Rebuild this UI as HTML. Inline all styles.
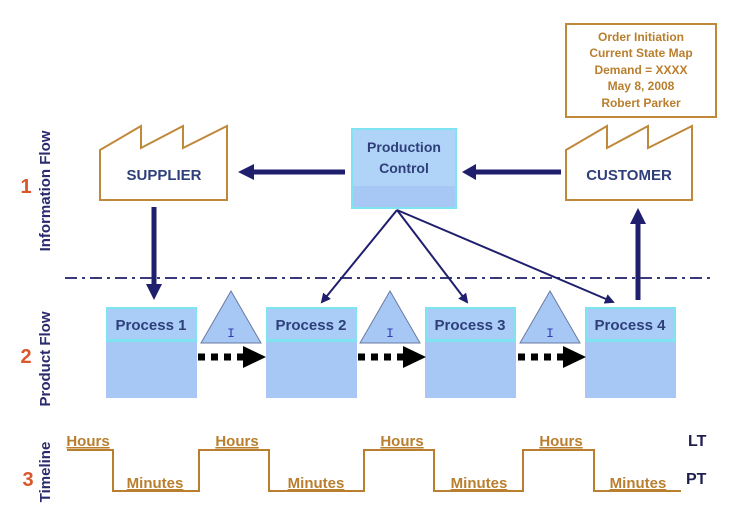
<!DOCTYPE html>
<html><head><meta charset="utf-8"><style>
html,body{margin:0;padding:0;background:#fff;}
svg{display:block;font-family:"Liberation Sans",Arial,sans-serif;font-weight:bold;}
</style></head><body>
<svg width="746" height="532" viewBox="0 0 746 532" xmlns="http://www.w3.org/2000/svg">
<defs>
<marker id="ah" markerWidth="10" markerHeight="10" refX="8" refY="5" orient="auto" markerUnits="userSpaceOnUse"><path d="M0,0 L10,5 L0,10 z" fill="#1f1f6e"/></marker>
</defs>
<!-- side labels -->
<text transform="translate(50,191) rotate(-90)" text-anchor="middle" font-size="15" fill="#2a2a6e">Information Flow</text>
<text transform="translate(50,359) rotate(-90)" text-anchor="middle" font-size="15" fill="#2a2a6e">Product Flow</text>
<text transform="translate(50,472) rotate(-90)" text-anchor="middle" font-size="15" fill="#2a2a6e">Timeline</text>
<text x="26" y="193" text-anchor="middle" font-size="20" fill="#d9572a">1</text>
<text x="26" y="363" text-anchor="middle" font-size="20" fill="#d9572a">2</text>
<text x="28" y="486" text-anchor="middle" font-size="20" fill="#d9572a">3</text>

<!-- order box -->
<rect x="566" y="24" width="150" height="93" fill="#fff" stroke="#c0893a" stroke-width="2"/>
<g font-size="12" fill="#b97f2e" text-anchor="middle">
<text x="641" y="41">Order Initiation</text>
<text x="641" y="57">Current State Map</text>
<text x="641" y="74">Demand = XXXX</text>
<text x="641" y="90">May 8, 2008</text>
<text x="641" y="107">Robert Parker</text>
</g>

<!-- factories -->
<path d="M100,150 L141,126 L141,148 L183,126 L183,148 L227,126 L227,200 L100,200 Z" fill="#fff" stroke="#c0893a" stroke-width="2"/>
<text x="164" y="180" text-anchor="middle" font-size="15" fill="#2f3f7a">SUPPLIER</text>
<path d="M566,150 L607,126 L607,148 L648,126 L648,148 L692,126 L692,200 L566,200 Z" fill="#fff" stroke="#c0893a" stroke-width="2"/>
<text x="629" y="180" text-anchor="middle" font-size="15" fill="#2f3f7a">CUSTOMER</text>

<!-- production control -->
<rect x="352" y="129" width="104" height="79" fill="#a7c8f5" stroke="#7fe3f0" stroke-width="2"/>
<rect x="353" y="130" width="102" height="56" fill="#b0d4f8"/>
<text x="404" y="152" text-anchor="middle" font-size="14" fill="#2f3f7a">Production</text>
<text x="404" y="173" text-anchor="middle" font-size="14" fill="#2f3f7a">Control</text>

<!-- thick arrows -->
<g stroke="#1f1f6e" stroke-width="5" fill="#1f1f6e">
<line x1="561" y1="172" x2="474" y2="172"/>
<path d="M462,172 L476,164 L476,180 Z" stroke="none"/>
<line x1="345" y1="172" x2="252" y2="172"/>
<path d="M238,172 L254,164 L254,180 Z" stroke="none"/>
<line x1="154" y1="207" x2="154" y2="285"/>
<path d="M154,300 L146,284 L162,284 Z" stroke="none"/>
<line x1="638" y1="300" x2="638" y2="222"/>
<path d="M638,208 L630,224 L646,224 Z" stroke="none"/>
</g>

<!-- dash-dot -->
<line x1="65" y1="278" x2="712" y2="278" stroke="#3a3a7a" stroke-width="2" stroke-dasharray="12,5,3,5"/>

<!-- PC thin lines -->
<g stroke="#1f1f6e" stroke-width="2" fill="none" marker-end="url(#ah)">
<line x1="397" y1="210" x2="322" y2="302"/>
<line x1="397" y1="210" x2="467" y2="302"/>
<line x1="397" y1="210" x2="613" y2="302"/>
</g>

<!-- processes -->
<g font-size="15" fill="#2f3f7a" text-anchor="middle">
<g transform="translate(106,0)"><rect x="0" y="307" width="91" height="91" fill="#a7c8f5"/><rect x="0" y="307" width="91" height="35" fill="#7fe3f0"/><rect x="2" y="309" width="87" height="30" fill="#a9cdf6"/><text x="45" y="330">Process 1</text></g>
<g transform="translate(266,0)"><rect x="0" y="307" width="91" height="91" fill="#a7c8f5"/><rect x="0" y="307" width="91" height="35" fill="#7fe3f0"/><rect x="2" y="309" width="87" height="30" fill="#a9cdf6"/><text x="45" y="330">Process 2</text></g>
<g transform="translate(425,0)"><rect x="0" y="307" width="91" height="91" fill="#a7c8f5"/><rect x="0" y="307" width="91" height="35" fill="#7fe3f0"/><rect x="2" y="309" width="87" height="30" fill="#a9cdf6"/><text x="45" y="330">Process 3</text></g>
<g transform="translate(585,0)"><rect x="0" y="307" width="91" height="91" fill="#a7c8f5"/><rect x="0" y="307" width="91" height="35" fill="#7fe3f0"/><rect x="2" y="309" width="87" height="30" fill="#a9cdf6"/><text x="45" y="330">Process 4</text></g>
</g>

<!-- inventory triangles + push arrows -->
<g>
<path d="M231,291 L261,343 L201,343 Z" fill="#a7c8f5" stroke="#6a7aa0" stroke-width="1"/>
<text x="231" y="337" text-anchor="middle" font-size="13" font-weight="normal" font-family="Liberation Mono,monospace" fill="#3a3ab0">I</text>
<path d="M390,291 L420,343 L360,343 Z" fill="#a7c8f5" stroke="#6a7aa0" stroke-width="1"/>
<text x="390" y="337" text-anchor="middle" font-size="13" font-weight="normal" font-family="Liberation Mono,monospace" fill="#3a3ab0">I</text>
<path d="M550,291 L580,343 L520,343 Z" fill="#a7c8f5" stroke="#6a7aa0" stroke-width="1"/>
<text x="550" y="337" text-anchor="middle" font-size="13" font-weight="normal" font-family="Liberation Mono,monospace" fill="#3a3ab0">I</text>
</g>
<g stroke="#000" stroke-width="7" stroke-dasharray="7,6">
<line x1="198" y1="357" x2="245" y2="357"/>
<line x1="358" y1="357" x2="405" y2="357"/>
<line x1="518" y1="357" x2="565" y2="357"/>
</g>
<g fill="#000">
<path d="M243,346 L266,357 L243,368 Z"/>
<path d="M403,346 L426,357 L403,368 Z"/>
<path d="M563,346 L586,357 L563,368 Z"/>
</g>

<!-- timeline -->
<path d="M67,450 L113,450 L113,491 L199,491 L199,450 L269,450 L269,491 L364,491 L364,450 L434,450 L434,491 L523,491 L523,450 L594,450 L594,491 L681,491" fill="none" stroke="#b97f2e" stroke-width="2"/>
<g font-size="15" fill="#b97f2e" text-anchor="middle" text-decoration="underline">
<text x="88" y="446">Hours</text>
<text x="237" y="446">Hours</text>
<text x="402" y="446">Hours</text>
<text x="561" y="446">Hours</text>
<text x="155" y="488">Minutes</text>
<text x="316" y="488">Minutes</text>
<text x="479" y="488">Minutes</text>
<text x="638" y="488">Minutes</text>
</g>
<text x="688" y="446" font-size="16" fill="#1f1f4e">LT</text>
<text x="686" y="484" font-size="16" fill="#1f1f4e">PT</text>
</svg>
</body></html>
